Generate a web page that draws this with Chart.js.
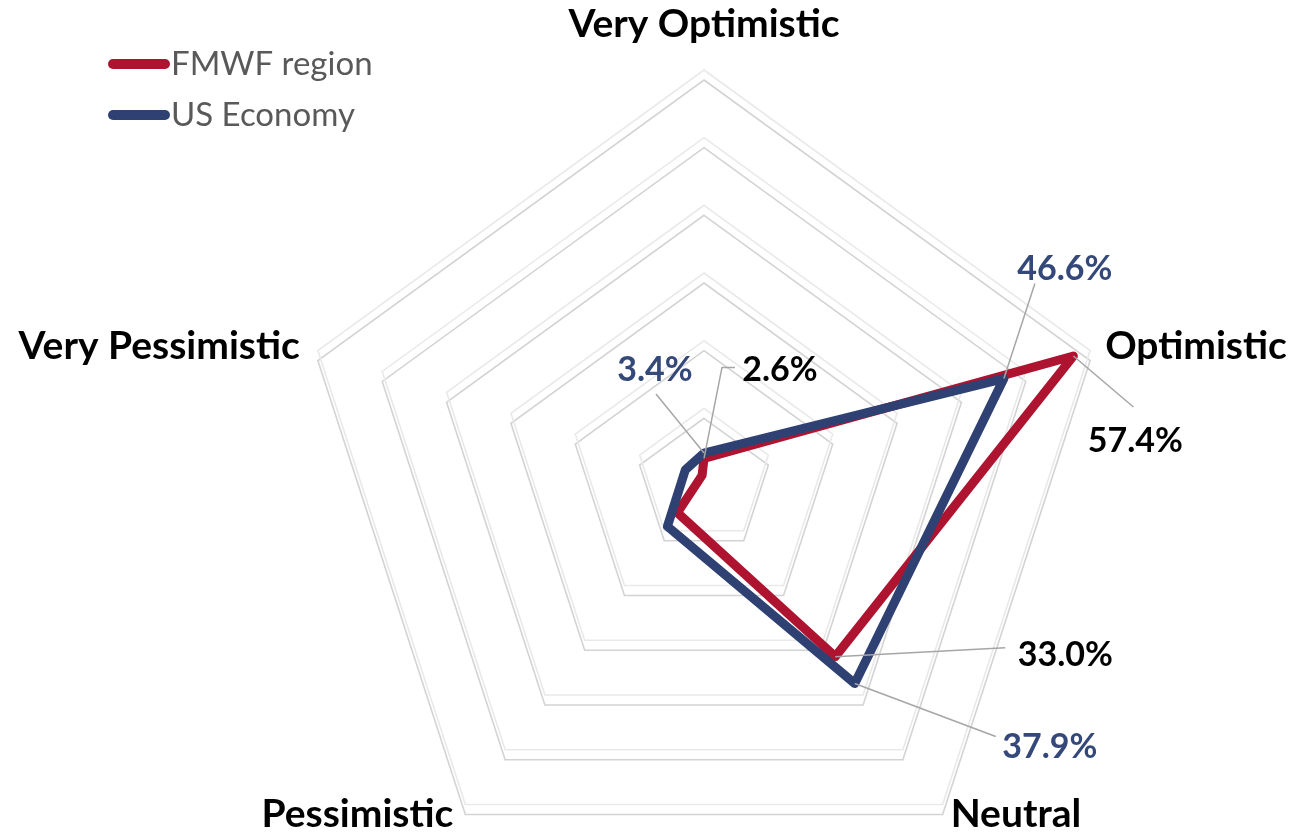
<!DOCTYPE html>
<html>
<head>
<meta charset="utf-8">
<script src="https://cdn.jsdelivr.net/npm/chart.js@4.4.0/dist/chart.umd.min.js"></script>
<style>
  html, body { margin: 0; padding: 0; background: #ffffff; overflow: hidden; }
  #wrap { position: relative; width: 1294px; height: 900px; }
</style>
</head>
<body>
<div id="wrap"><canvas id="myChart" width="1294" height="900"></canvas></div>
<script>
// datos
const categorias = ['Very Optimistic', 'Optimistic', 'Neutral', 'Pessimistic', 'Very Pessimistic'];
const regionFMWF = [2.6, 57.4, 33.0, 6.7, 0.3];
const economiaUS = [3.4, 46.6, 37.9, 9.2, 2.9];
const nombresSeries = ['FMWF region', 'US Economy'];
const indicesConEtiqueta = [0, 1, 2];
const escalaMax = 60;
const escalaPaso = 10;

const rojo = '#ae1430';
const azul = '#2e4172';
const azulTexto = '#34487a';

// sombra de la cuadricula (copia desplazada hacia abajo)
const sombraGrid = {
    id: 'sombraGrid',
    beforeDraw(chart) {
        const scale = chart.scales.r;
        const c = chart.ctx;
        c.save();
        c.translate(0, 10);
        c.strokeStyle = '#d3d3d3';
        c.lineWidth = 1.6;
        scale.ticks.forEach(t => {
            if (t.value <= 0) return;
            const d = scale.getDistanceFromCenterForValue(t.value);
            c.beginPath();
            for (let i = 0; i < categorias.length; i++) {
                const p = scale.getPointPosition(i, d);
                if (i === 0) c.moveTo(p.x, p.y); else c.lineTo(p.x, p.y);
            }
            c.closePath();
            c.stroke();
        });
        c.restore();
    }
};

// nombres de los ejes
const etiquetasEjes = {
    id: 'etiquetasEjes',
    afterDraw(chart, args, opts) {
        const scale = chart.scales.r;
        const c = chart.ctx;
        c.save();
        c.font = 'bold 39px Lato';
        c.fillStyle = '#000000';
        c.textBaseline = 'alphabetic';
        categorias.forEach((txt, i) => {
            const p = scale.getPointPosition(i, scale.drawingArea);
            const o = opts.offsets[i];
            c.textAlign = o.align;
            c.fillText(txt, p.x + o.dx, p.y + o.dy);
        });
        c.restore();
    }
};

// porcentajes con lineas guia
const etiquetasDatos = {
    id: 'etiquetasDatos',
    afterDatasetsDraw(chart, args, opts) {
        const c = chart.ctx;
        chart.data.datasets.forEach((ds, di) => {
            const meta = chart.getDatasetMeta(di);
            const pos = opts.posiciones[di];
            indicesConEtiqueta.forEach(idx => {
                const pt = meta.data[idx];
                const o = pos[idx];
                c.save();
                c.strokeStyle = '#a6a6a6';
                c.lineWidth = 1.5;
                c.beginPath();
                c.moveTo(pt.x, pt.y);
                o.guia.forEach(g => c.lineTo(pt.x + g[0], pt.y + g[1]));
                c.stroke();
                c.font = 'bold 34px Lato';
                c.fillStyle = opts.colores[di];
                c.textAlign = 'center';
                c.textBaseline = 'middle';
                c.fillText(ds.data[idx].toFixed(1) + '%', pt.x + o.dx, pt.y + o.dy);
                c.restore();
            });
        });
    }
};

// leyenda arriba a la izquierda
const leyenda = {
    id: 'leyenda',
    afterDraw(chart) {
        const c = chart.ctx;
        chart.data.datasets.forEach((ds, i) => {
            const y = 64 + i * 51;
            c.save();
            c.strokeStyle = ds.borderColor;
            c.lineWidth = 10;
            c.lineCap = 'round';
            c.beginPath();
            c.moveTo(113, y);
            c.lineTo(165, y);
            c.stroke();
            c.font = '33px Lato';
            c.fillStyle = '#595959';
            c.textAlign = 'left';
            c.textBaseline = 'middle';
            c.fillText(ds.label, 171, y);
            c.restore();
        });
    }
};

const ctx = document.getElementById('myChart');

new Chart(ctx, {
    type: 'radar',
    data: {
        labels: categorias,
        datasets: [
            {
                label: nombresSeries[0],
                data: regionFMWF,
                borderColor: rojo,
                backgroundColor: 'transparent',
                borderWidth: 9,
                borderJoinStyle: 'round',
                pointRadius: 0,
                fill: false,
                order: 1
            },
            {
                label: nombresSeries[1],
                data: economiaUS,
                borderColor: azul,
                backgroundColor: 'transparent',
                borderWidth: 9,
                borderJoinStyle: 'round',
                pointRadius: 0,
                fill: false,
                order: 0
            }
        ]
    },
    options: {
        responsive: false,
        animation: false,
        layout: { padding: { left: 298, right: 184, top: 70, bottom: 18 } },
        scales: {
            r: {
                min: 0,
                max: escalaMax,
                ticks: { stepSize: escalaPaso, display: false },
                grid: { color: '#e9e9e9', lineWidth: 1.6 },
                angleLines: { display: false },
                pointLabels: { display: false }
            }
        },
        plugins: {
            legend: { display: false },
            tooltip: { enabled: false },
            etiquetasEjes: {
                offsets: [
                    { dx: 0, dy: -33, align: 'center' },
                    { dx: 15, dy: 8, align: 'left' },
                    { dx: 8, dy: 23, align: 'left' },
                    { dx: -12, dy: 23, align: 'right' },
                    { dx: -18, dy: 8, align: 'right' }
                ]
            },
            etiquetasDatos: {
                colores: ['#000000', azulTexto],
                posiciones: [
                    {
                        0: { dx: 76, dy: -88, guia: [[18, -91], [31, -91]] },
                        1: { dx: 62, dy: 85, guia: [[60, 51]] },
                        2: { dx: 230, dy: -2, guia: [[170, -9]] }
                    },
                    {
                        0: { dx: -49, dy: -83, guia: [[-48, -59]] },
                        1: { dx: 61, dy: -110, guia: [[31, -95]] },
                        2: { dx: 195, dy: 64, guia: [[141, 53]] }
                    }
                ]
            }
        }
    },
    plugins: [sombraGrid, etiquetasEjes, etiquetasDatos, leyenda]
});
</script>
</body>
</html>
